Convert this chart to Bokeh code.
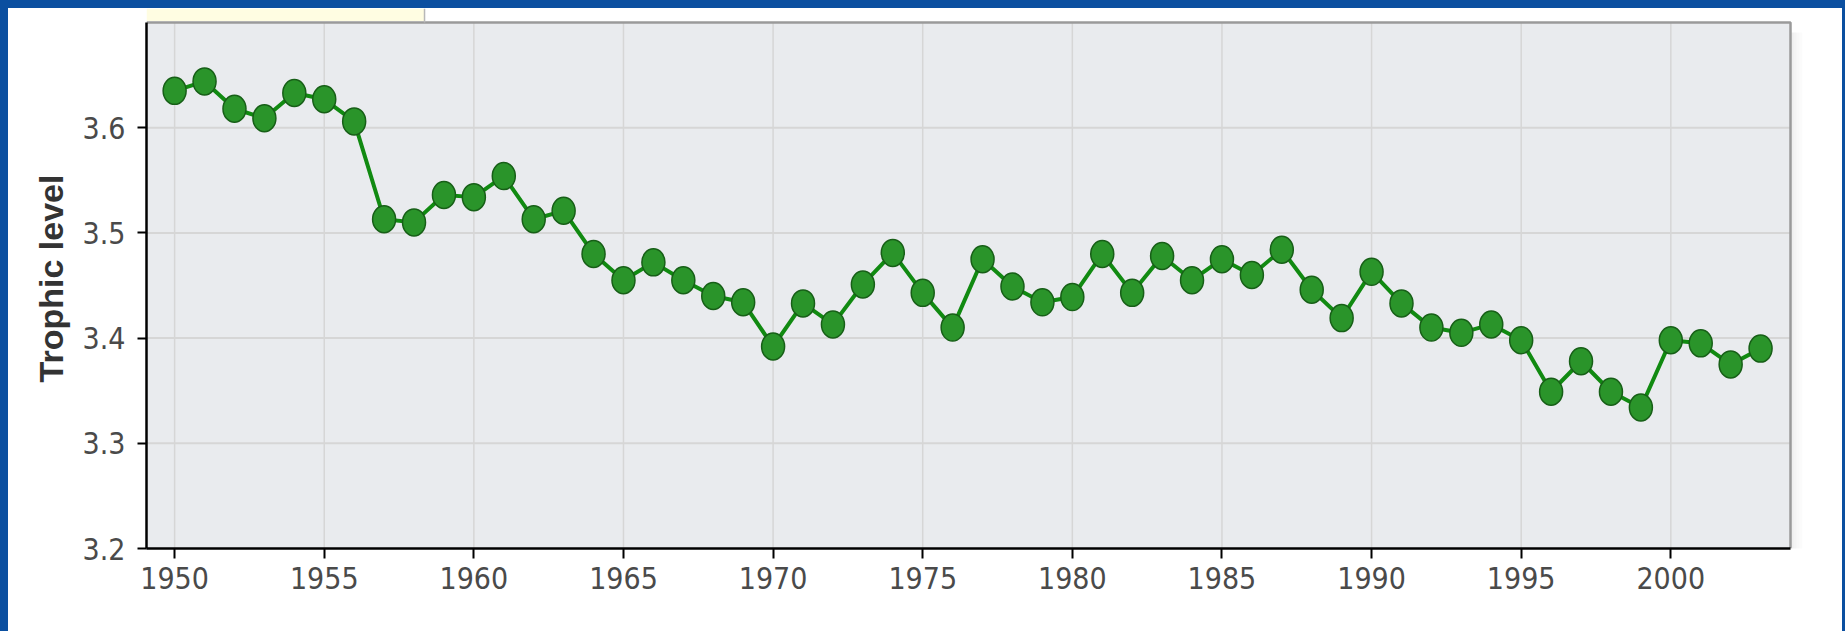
from bokeh.plotting import figure
from bokeh.models import FixedTicker, Range1d, GlobalInlineStyleSheet
from bokeh.embed import file_html
from bokeh.resources import INLINE

years = list(range(1950, 2004))
trophic = [3.635, 3.644, 3.618, 3.609, 3.633, 3.627, 3.606, 3.513, 3.510, 3.536,
           3.534, 3.554, 3.513, 3.521, 3.480, 3.455, 3.472, 3.455, 3.440, 3.434,
           3.392, 3.433, 3.413, 3.451, 3.481, 3.443, 3.410, 3.475, 3.449, 3.434,
           3.439, 3.480, 3.443, 3.478, 3.455, 3.475, 3.460, 3.484, 3.446, 3.419,
           3.463, 3.433, 3.410, 3.405, 3.413, 3.398, 3.349, 3.378, 3.349, 3.334,
           3.398, 3.395, 3.375, 3.390]
x_ticks = [1950, 1955, 1960, 1965, 1970, 1975, 1980, 1985, 1990, 1995, 2000]
y_ticks = [3.2, 3.3, 3.4, 3.5, 3.6]

# plot-area extent (axis limits)
x_lo, x_hi = 1949.06, 2004.0
y_lo, y_hi = 3.2, 3.7

# layout constants (pixels)
PX_X = 29.92          # px per year
PX_Y = 1052.5         # px per unit of trophic level
TAB_H, TAB_W, SHADOW_W = 14, 278, 12
y_top = y_hi + TAB_H / PX_Y
x_end = x_hi + SHADOW_W / PX_X

BLUE = "#0b4fa0"
css = (
    "html, body { margin: 0 !important; }"
    "body { padding: 8px 0 0 8px !important; box-sizing: border-box;"
    f" background: linear-gradient(to right, {BLUE} 0px, {BLUE} 8px, rgba(255,255,255,0) 8px,"
    f" rgba(255,255,255,0) 1842px, {BLUE} 1842px),"
    f" linear-gradient(to bottom, {BLUE} 0px, {BLUE} 8px, #ffffff 8px) !important; }}"
)

TICK_FONT = "'Liberation Sans Narrow', 'DejaVu Sans Condensed', 'Liberation Sans', sans-serif"
GRID = "#d6d6d6"

p = figure(width=1834, height=623, output_backend="svg", toolbar_location=None,
           x_range=Range1d(x_lo, x_end), y_range=Range1d(y_lo, y_top),
           min_border_left=138, min_border_right=40, min_border_top=0, min_border_bottom=83)
p.stylesheets = [GlobalInlineStyleSheet(css=css)]
p.background_fill_color = "white"
p.border_fill_color = "white"
p.outline_line_color = None
p.xgrid.grid_line_color = None
p.ygrid.grid_line_color = None

for ax in (p.xaxis[0], p.yaxis[0]):
    ax.axis_line_color = "black"
    ax.axis_line_width = 2.5
    ax.major_tick_line_color = "black"
    ax.major_tick_line_width = 2
    ax.minor_tick_line_color = None
    ax.major_tick_in = 0
    ax.major_label_text_font = TICK_FONT
    ax.major_label_text_font_size = "30px"
    ax.major_label_text_color = "#4a4a4a"

p.xaxis.bounds = (x_lo, x_hi)
p.yaxis.bounds = (y_lo, y_hi)
p.xaxis.ticker = FixedTicker(ticks=x_ticks)
p.yaxis.ticker = FixedTicker(ticks=y_ticks)
p.xaxis.major_tick_out = 10
p.yaxis.major_tick_out = 9
p.xaxis.major_label_standoff = 8
p.yaxis.major_label_standoff = 12
p.yaxis.axis_label = "Trophic level"
p.yaxis.axis_label_text_font = "Liberation Sans"
p.yaxis.axis_label_text_font_style = "bold"
p.yaxis.axis_label_text_font_size = "34px"
p.yaxis.axis_label_text_color = "#333333"
p.yaxis.axis_label_standoff = 10

# soft drop shadow right of the plot area
for i, a in enumerate([0.10, 0.07, 0.045, 0.025]):
    p.quad(left=x_hi + (i * 3) / PX_X, right=x_hi + (i * 3 + 3) / PX_X,
           bottom=y_lo - 6 / PX_Y, top=y_hi - 10 / PX_Y,
           fill_color="#666666", fill_alpha=a, line_color=None)

# plot-area background
p.quad(left=x_lo, right=x_hi, bottom=y_lo, top=y_hi, fill_color="#e9ebee", line_color=None)

# grid
p.segment(x0=x_ticks, y0=[y_lo] * len(x_ticks), x1=x_ticks, y1=[y_hi] * len(x_ticks),
          line_color=GRID, line_width=1.5)
p.segment(x0=[x_lo] * 4, y0=y_ticks[1:], x1=[x_hi] * 4, y1=y_ticks[1:],
          line_color=GRID, line_width=2)

# top / right frame border
p.line([x_lo, x_hi, x_hi], [y_hi, y_hi, y_lo], line_color="#9a9a9a", line_width=2.5)

# pale yellow tab above the plot area
p.quad(left=x_lo, right=x_lo + TAB_W / PX_X, bottom=y_hi + 1.5 / PX_Y, top=y_top,
       fill_color="#fffde2", line_color=None)
p.line([x_lo + TAB_W / PX_X] * 2, [y_hi, y_top], line_color="#b8b8b8", line_width=1.5)

# data
p.line(years, trophic, line_color="#118a11", line_width=4)
p.ellipse(x=years, y=trophic, width=23, height=27, width_units="screen", height_units="screen",
          fill_color="#2a942a", line_color="#175f17", line_width=1.5)

open("out.html", "w").write(file_html(p, INLINE))
